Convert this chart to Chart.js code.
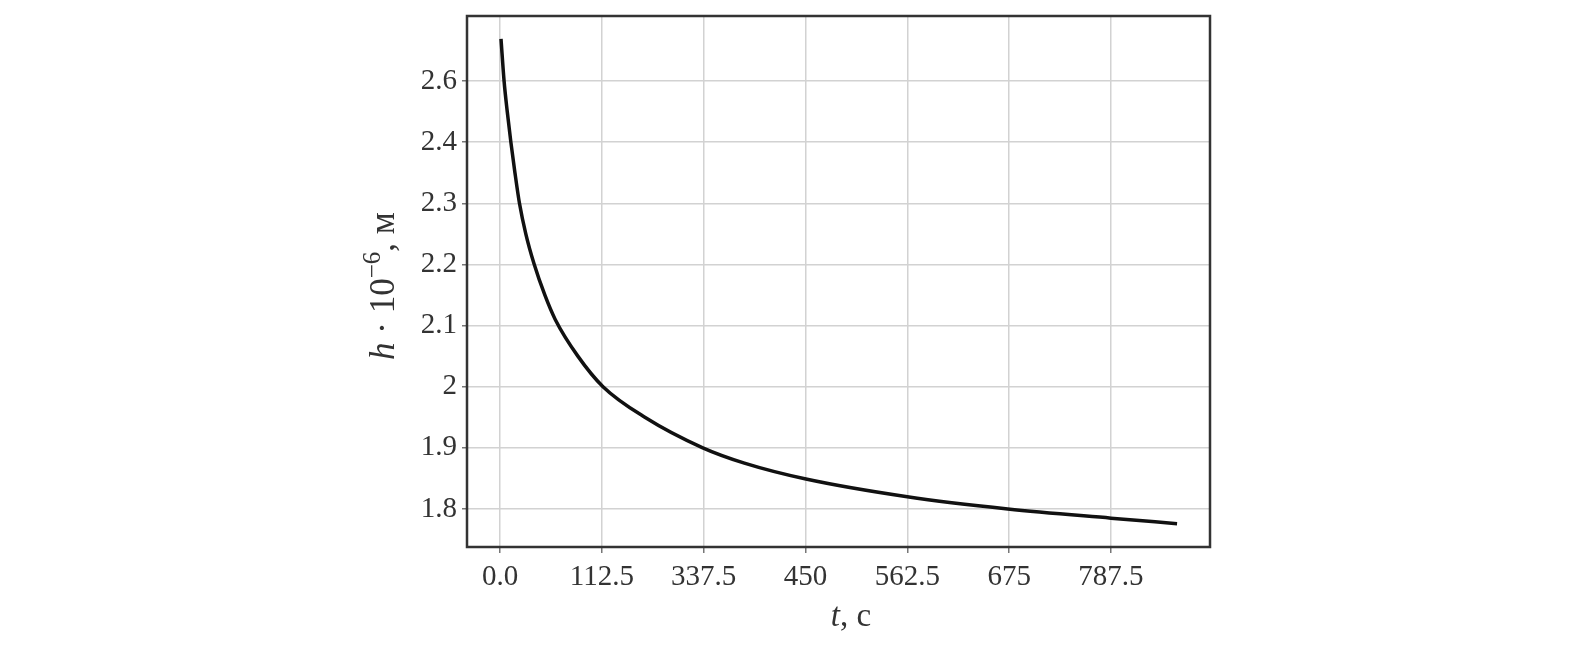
<!DOCTYPE html>
<html>
<head>
<meta charset="utf-8">
<script src="https://cdn.jsdelivr.net/npm/chart.js@4.4.0/dist/chart.umd.min.js"></script>
<style>
  html, body { margin: 0; padding: 0; background: #fff; }
  #wrap { width: 1594px; height: 648px; }
</style>
</head>
<body>
<div id="wrap"><canvas id="chart" width="1594" height="648"></canvas></div>
<script>
// grid positions and the labels printed on them (as in the original figure)
const xTickValues = [0, 112.5, 225, 337.5, 450, 562.5, 675];
const xTickLabels = ['0.0', '112.5', '337.5', '450', '562.5', '675', '787.5'];
const yTickValues = [1.8, 1.9, 2.0, 2.1, 2.2, 2.3, 2.4, 2.5, 2.6];
const yTickLabels = ['1.8', '1.9', '2', '2.1', '2.2', '2.3', '2.4', '2.6', null];

// curve (axis units)
const tValues = [1.1, 4.5, 8, 12, 16.5, 21.5, 28.5, 37.6, 49.5, 61, 86, 113.8, 160, 224, 270, 338, 450, 561, 675, 748];
const hValues = [2.569, 2.500, 2.450, 2.400, 2.350, 2.300, 2.250, 2.201, 2.150, 2.110, 2.050, 2.000, 1.950, 1.900, 1.875, 1.849, 1.820, 1.800, 1.785, 1.776];

const FONT = "'Liberation Serif', 'DejaVu Serif', serif";
const TEXT = '#333';

const frameBox = {
    id: 'frameBox',
    afterDraw(chart) {
        const { ctx, chartArea: a } = chart;
        ctx.save();
        ctx.strokeStyle = '#333';
        ctx.lineWidth = 2.5;
        ctx.strokeRect(a.left, a.top, a.right - a.left, a.bottom - a.top);
        ctx.restore();
    }
};

// draw pieces of text one after another, each with its own font and baseline shift
function drawRuns(ctx, runs, cx, cy) {
    let total = 0;
    runs.forEach(r => { ctx.font = r.font; r.w = ctx.measureText(r.text).width; total += r.w; });
    let x = cx - total / 2;
    runs.forEach(r => {
        ctx.font = r.font;
        ctx.fillText(r.text, x, cy + (r.dy || 0));
        x += r.w;
    });
}

const axisTitles = {
    id: 'axisTitles',
    afterDraw(chart) {
        const { ctx } = chart;
        ctx.save();
        ctx.fillStyle = TEXT;
        ctx.textBaseline = 'alphabetic';
        ctx.textAlign = 'left';
        // x title
        drawRuns(ctx, [
            { text: 't', font: `italic 33px ${FONT}` },
            { text: ', с', font: `33px ${FONT}` }
        ], 851, 626);
        // y title, rotated
        ctx.translate(394, 286);
        ctx.rotate(-Math.PI / 2);
        drawRuns(ctx, [
            { text: 'h', font: `italic 35px ${FONT}` },
            { text: ' · 10', font: `35px ${FONT}` },
            { text: '−6', font: `25px ${FONT}`, dy: -14 },
            { text: ', м', font: `35px ${FONT}` }
        ], 0, 0);
        ctx.restore();
    }
};

new Chart(document.getElementById('chart'), {
    type: 'line',
    data: {
        datasets: [{
            data: tValues.map((t, i) => ({ x: t, y: hValues[i] })),
            borderColor: '#111',
            borderWidth: 3.5,
            pointRadius: 0,
            fill: false,
            cubicInterpolationMode: 'monotone'
        }]
    },
    options: {
        responsive: false,
        animation: false,
        layout: { padding: { top: 16, right: 384, left: 0, bottom: 0 } },
        plugins: { legend: { display: false }, tooltip: { enabled: false }, title: { display: false } },
        scales: {
            x: {
                type: 'linear',
                min: -36.46,
                max: 784.4,
                afterBuildTicks: s => { s.ticks = xTickValues.map(v => ({ value: v })); },
                afterFit: s => { s.height = 101; s.paddingLeft = 0; s.paddingRight = 0; },
                ticks: {
                    callback: (v, i) => xTickLabels[i],
                    font: { family: FONT, size: 29 },
                    color: TEXT,
                    padding: 7,
                    maxRotation: 0,
                    autoSkip: false
                },
                grid: { color: '#d2d2d2', lineWidth: 1.5, tickLength: 6, tickColor: '#777' },
                border: { display: false }
            },
            y: {
                type: 'linear',
                min: 1.7378,
                max: 2.6063,
                afterBuildTicks: s => { s.ticks = yTickValues.map(v => ({ value: v })); },
                afterFit: s => { s.width = 467; s.paddingTop = 0; s.paddingBottom = 0; },
                ticks: {
                    callback: (v, i) => yTickLabels[i],
                    font: { family: FONT, size: 29 },
                    color: TEXT,
                    padding: 5,
                    autoSkip: false
                },
                grid: { color: '#d2d2d2', lineWidth: 1.5, tickLength: 5, tickColor: '#777' },
                border: { display: false }
            }
        }
    },
    plugins: [frameBox, axisTitles]
});
</script>
</body>
</html>
